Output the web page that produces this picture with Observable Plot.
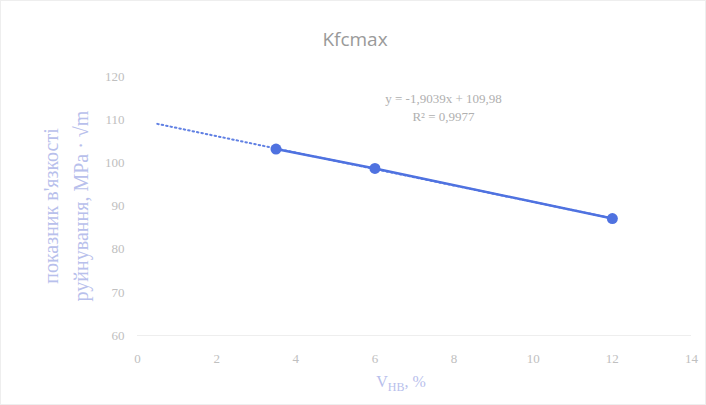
<!DOCTYPE html>
<html>
<head>
<meta charset="utf-8">
<script src="https://cdn.jsdelivr.net/npm/d3@7"></script>
<script src="https://cdn.jsdelivr.net/npm/@observablehq/plot@0.6"></script>
<style>
  html, body { margin: 0; padding: 0; background: #fff; }
  #wrap { position: relative; width: 704px; height: 403px; border: 1px solid #eeeeee; overflow: hidden; }
  #title { height: 55px; line-height: 76px; text-align: center; font-family: "Open Sans", "Noto Sans", sans-serif; font-size: 19px; color: #9a9a9a; padding-left: 4px; box-sizing: border-box; }
</style>
</head>
<body>
<div id="wrap">
  <div id="title">Kfcmax</div>
  <div id="chart"></div>
</div>
<script>
// data
const xValues = [3.5, 6, 12];
const yValues = [103.2, 98.7, 87.1];
const xTicks = [0, 2, 4, 6, 8, 10, 12, 14];
const yTicks = [60, 70, 80, 90, 100, 110, 120];
const trendSlope = -1.9039;
const trendIntercept = 109.98;
const trendRange = [0.5, 12];
const equationLines = ["y = -1,9039x + 109,98", "R² = 0,9977"];
const yLabelLines = ["показник в'язкості", "руйнування, МРа · √m"];

const points = xValues.map((x, i) => ({x, y: yValues[i]}));
const trend = trendRange.map(x => ({x, y: trendSlope * x + trendIntercept}));

const blue = "#4f72e0";
const plot = Plot.plot({
  width: 704,
  height: 348,
  marginLeft: 136,
  marginRight: 14,
  marginTop: 20,
  marginBottom: 69,
  style: {background: "transparent", overflow: "visible"},
  x: {domain: [0, 14], ticks: xTicks, tickSize: 0, tickPadding: 18, label: null},
  y: {domain: [60, 120], ticks: yTicks, tickSize: 0, tickPadding: 12, label: null},
  marks: [
    Plot.ruleY([60], {stroke: "#eeeeee", strokeWidth: 1}),
    Plot.axisX({ticks: xTicks, tickSize: 0, tickPadding: 18, fontFamily: "Liberation Serif", fontSize: 13, color: "#c0c0c0", label: null}),
    Plot.axisY({ticks: yTicks, tickSize: 0, tickPadding: 13, fontFamily: "Liberation Serif", fontSize: 13, color: "#c0c0c0", label: null}),
    Plot.line(trend, {x: "x", y: "y", stroke: blue, strokeWidth: 2, strokeDasharray: "1.5,3", strokeOpacity: 0.9}),
    Plot.line(points, {x: "x", y: "y", stroke: blue, strokeWidth: 2.5}),
    Plot.dot(points, {x: "x", y: "y", r: 5.5, fill: blue, stroke: "none"}),
    Plot.text([equationLines.join("\n")], {frameAnchor: "top", dx: 29, dy: 30, fontFamily: "Liberation Serif", fontSize: 13, fill: "#b0b0b0", lineHeight: 1.4, lineAnchor: "middle"}),
    Plot.text([yLabelLines.join("\n")], {frameAnchor: "left", dx: -74, rotate: -90, fontFamily: "Liberation Serif", fontSize: 20, fill: "#b8c0ec", lineHeight: 1.5, lineAnchor: "middle", textAnchor: "middle"})
  ]
});
document.getElementById("chart").appendChild(plot);

// x-axis label with subscript
const svg = d3.select(plot);
const lbl = svg.append("text")
  .attr("x", 400).attr("y", 331)
  .attr("text-anchor", "middle")
  .attr("font-family", "Liberation Serif")
  .attr("font-size", 16)
  .attr("fill", "#b8c0ec");
lbl.append("tspan").text("V");
lbl.append("tspan").attr("font-size", 12).attr("dy", 4).text("HB");
lbl.append("tspan").attr("dy", -4).text(", %");
</script>
</body>
</html>
